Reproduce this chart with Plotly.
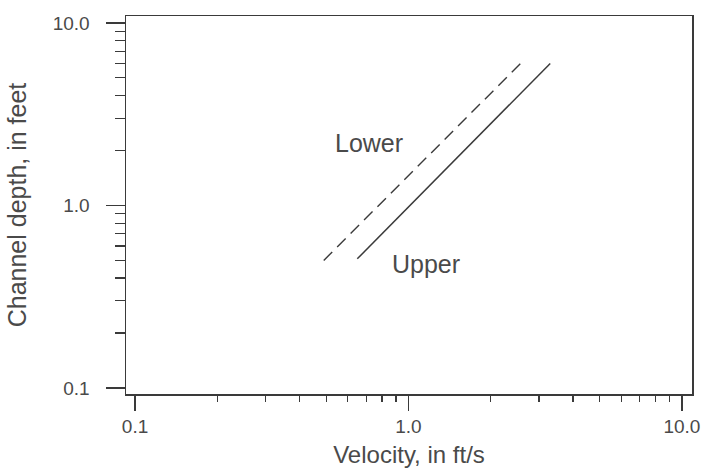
import math
import plotly.graph_objects as go

# Data
upper_velocity = [0.65, 3.3]
upper_depth = [0.51, 6.0]
lower_velocity = [0.49, 2.6]
lower_depth = [0.50, 6.1]

tick_vals = [0.1, 1.0, 10.0]
tick_text = ["0.1", "1.0", "10.0"]
minor_vals = [k * 10.0 ** e for e in (-1, 0) for k in range(2, 10)]

label_lower = ("Lower", 0.72, 2.2)
label_upper = ("Upper", 1.16, 0.48)

line_color = "#3a3a3a"
text_color = "#4a4a4a"
font_family = "Liberation Sans, Arial, sans-serif"

fig = go.Figure()
fig.add_trace(go.Scatter(x=lower_velocity, y=lower_depth, mode="lines",
                         line=dict(color=line_color, width=1.4, dash="12px,7px"),
                         showlegend=False, hoverinfo="skip"))
fig.add_trace(go.Scatter(x=upper_velocity, y=upper_depth, mode="lines",
                         line=dict(color=line_color, width=1.5),
                         showlegend=False, hoverinfo="skip"))

for txt, xv, yv in (label_lower, label_upper):
    fig.add_annotation(x=math.log10(xv), y=math.log10(yv), xref="x", yref="y",
                       text=txt, showarrow=False,
                       font=dict(size=25, color=text_color, family=font_family))

axis_common = dict(
    type="log", showgrid=False, zeroline=False,
    showline=True, linecolor=line_color, linewidth=1.5, mirror=True,
    tickmode="array", tickvals=tick_vals, ticktext=tick_text,
    ticks="outside", tickcolor=line_color, tickwidth=1.3,
    tickfont=dict(size=19, color=text_color, family=font_family),
)

fig.update_xaxes(**axis_common, range=[-1.033, 1.037], ticklen=15,
                 ticklabelstandoff=0,
                 minor=dict(tickmode="array", tickvals=minor_vals, ticks="outside",
                            ticklen=6, tickcolor=line_color, tickwidth=1.2, showgrid=False),
                 title=dict(text="Velocity, in ft/s", standoff=13,
                            font=dict(size=24, color=text_color, family=font_family)))
fig.update_yaxes(**axis_common, range=[-1.033, 1.038], ticklen=19,
                 ticklabelstandoff=12,
                 minor=dict(tickmode="array", tickvals=minor_vals, ticks="outside",
                            ticklen=10, tickcolor=line_color, tickwidth=1.2, showgrid=False),
                 title=dict(text="Channel depth, in feet", standoff=19,
                            font=dict(size=25, color=text_color, family=font_family)))

fig.update_layout(width=702, height=468,
                  margin=dict(l=126, r=10, t=16, b=74, autoexpand=False),
                  plot_bgcolor="white", paper_bgcolor="white")

# remove the default page margin so the figure fills the window exactly
fig.write_html("out.html",
               config={"displayModeBar": False, "staticPlot": True},
               post_script="document.body.style.margin='0';document.body.style.overflow='hidden';")
